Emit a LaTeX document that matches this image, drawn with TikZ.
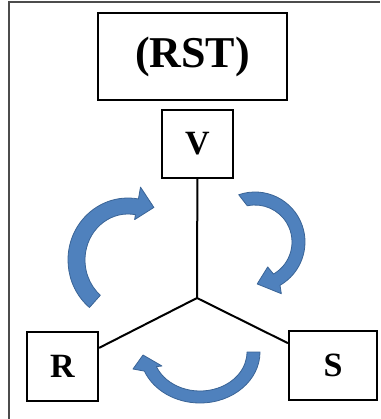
\documentclass[tikz,border=0pt]{standalone}
\usepackage{fontspec}
\setmainfont{Liberation Serif}
\definecolor{arrowblue}{HTML}{4F81BD}
\definecolor{arrowedge}{HTML}{3A6496}

\begin{document}
\begin{tikzpicture}[x=0.75pt, y=-0.75pt,
  box/.style={draw, line width=2pt, inner sep=0pt, font=\bfseries\fontsize{25.5}{25.5}\selectfont},
  link/.style={line width=1.5pt, line cap=round},
  curvearrow/.style={fill=arrowblue, draw=arrowedge, line width=0.6pt, line join=round}]

% Fix the picture size
\useasboundingbox (0,0) rectangle (380,419);

% Frame, only its left and top edges show
\draw[gray!60!black, line width=1.2pt] (9,419) |- (380,2);

% Boxes
\node[box, minimum width=141.75pt, minimum height=65.25pt, font=\bfseries\fontsize{33}{33}\selectfont] (rst) at (192.5,56.5) {(RST)};
\node[box, minimum width=53.25pt, minimum height=51pt] (v) at (197.5,144) {V};
\node[box, minimum width=53.25pt, minimum height=51.75pt] (r) at (62.5,366.5) {R};
\node[box, minimum width=66pt, minimum height=51.75pt] (s) at (333,365.5) {S};

% Connectors meeting in the middle
\coordinate (hub) at (197,298);
\draw[link] (v) -- (hub);
\draw[link] (hub) -- (r);
\draw[link] (hub) -- (s);

% Curved arrow on the left, going up
\begin{scope}[shift={(128,260)}]
\draw[curvearrow] (130:60 and 62) arc[start angle=130, end angle=280, x radius=60, y radius=62]
  -- (280:72 and 74) -- (297:57 and 59) -- (280:38 and 41) -- (280:43 and 46)
  arc[start angle=280, end angle=130, x radius=43, y radius=46] -- cycle;
\end{scope}

% Curved arrow on the right, going down
\begin{scope}[shift={(255,242)}]
\draw[curvearrow] (251:50) arc[start angle=251, end angle=420, radius=50]
  -- (63:58) -- (87:42) -- (63:28) -- (60:37)
  arc[start angle=420, end angle=258, radius=37] -- cycle;
\end{scope}

% Curved arrow at the bottom, going left
\begin{scope}[shift={(200,352)}]
\draw[curvearrow] (0:60 and 51) arc[start angle=0, end angle=158, x radius=60, y radius=51]
  -- (-67,17) -- (-57,3) -- (-38,14) -- (158:47 and 39)
  arc[start angle=158, end angle=0, x radius=47, y radius=39] -- cycle;
\end{scope}
\end{tikzpicture}
\end{document}
